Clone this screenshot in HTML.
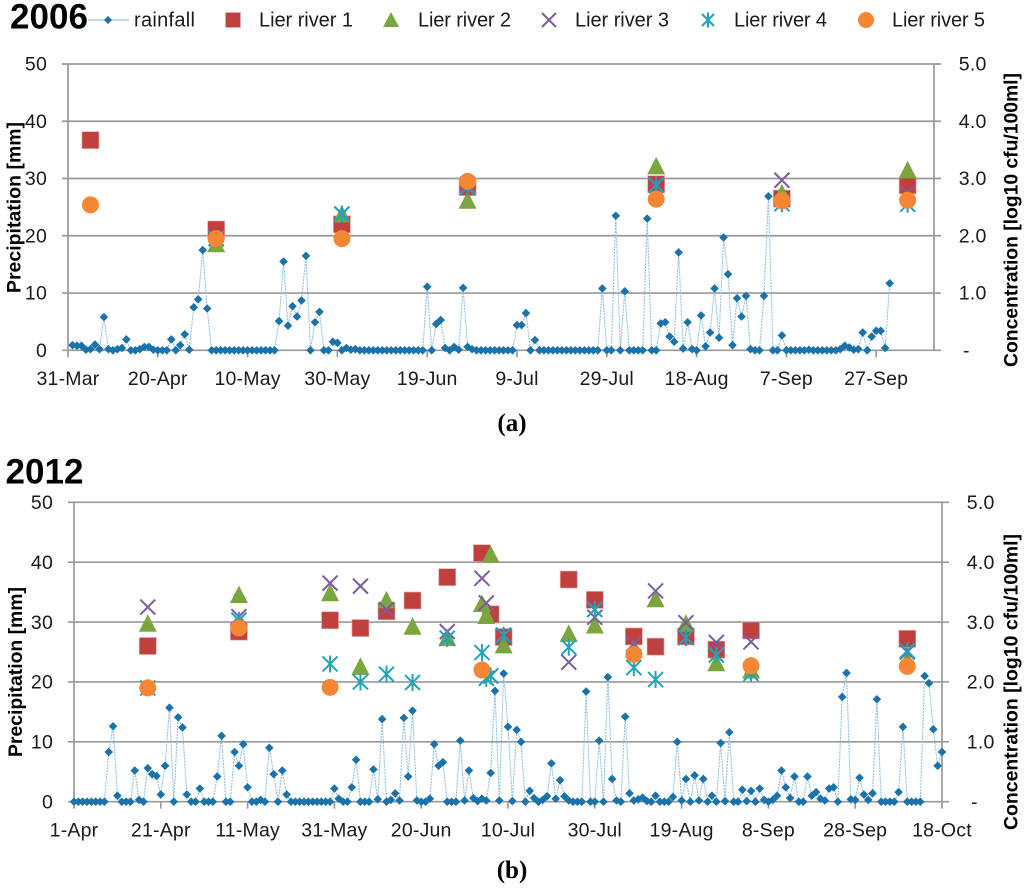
<!DOCTYPE html>
<html lang="en">
<head>
<meta charset="utf-8">
<title>Rainfall and Lier river concentration, 2006 and 2012</title>
<style>
html,body{margin:0;padding:0;background:#fff;}
svg{display:block;font-family:"Liberation Sans",sans-serif;filter:blur(.3px);}
.tick{font-size:19.5px;fill:#1a1a1a;letter-spacing:.2px;}
.title{font-size:35px;font-weight:bold;fill:#000;}
.axis-title{font-size:19.4px;font-weight:bold;fill:#000;}
.legend{font-size:20px;fill:#1a1a1a;}
.caption{font-family:"Liberation Serif",serif;font-size:25px;font-weight:bold;fill:#000;}
</style>
</head>
<body>
<svg id="root" width="1024" height="890" viewBox="0 0 1024 890" xmlns="http://www.w3.org/2000/svg">
  <g id="chart2006"></g>
  <g id="chart2012"></g>

  <text class="title" x="10" y="28.500" textLength="78">2006</text>
  <text class="title" x="5.500" y="483.500" textLength="78">2012</text>

  <g>
    <g>
      <line x1="88" y1="20" x2="129" y2="20" stroke="#a9cfe6" stroke-width="1.5"/>
      <polygon points="108,16 112,20 108,24 104,20" fill="#1a72ab"/>
      <text class="legend" x="134" y="26.500" textLength="61">rainfall</text>
    </g>
    <g>
      <rect x="225.500" y="12.500" width="15" height="15" fill="#c0403d" stroke="#e3a9a8" stroke-width=".7"/>
      <text class="legend" x="259" y="26.500" textLength="94">Lier river 1</text>
    </g>
    <g>
      <polygon points="391,12 399,27 383,27" fill="#7ba63d"/>
      <text class="legend" x="418" y="26.500" textLength="93">Lier river 2</text>
    </g>
    <g>
      <path d="M542 13L556 27M556 13L542 27" stroke="#7c5c9e" stroke-width="2" fill="none"/>
      <text class="legend" x="575" y="26.500" textLength="94">Lier river 3</text>
    </g>
    <g>
      <path d="M702 14L714 26M714 14L702 26M708 12.500V27.500" stroke="#1fa3bb" stroke-width="2" fill="none"/>
      <text class="legend" x="734" y="26.500" textLength="93">Lier river 4</text>
    </g>
    <g>
      <circle cx="866" cy="20" r="8" fill="#f58634"/>
      <text class="legend" x="892" y="26.500" textLength="93">Lier river 5</text>
    </g>
  </g>

  <text class="axis-title" transform="translate(20.500,293) rotate(-90)" textLength="171">Precipitation [mm]</text>
  <text class="axis-title" transform="translate(1017.500,367) rotate(-90)" textLength="294">Concentration [log10 cfu/100ml]</text>
  <text class="axis-title" transform="translate(22,757) rotate(-90)" textLength="170">Precipitation [mm]</text>
  <text class="axis-title" transform="translate(1017.500,830) rotate(-90)" textLength="296">Concentration [log10 cfu/100ml]</text>

  <text class="caption" x="512" y="431" text-anchor="middle">(a)</text>
  <text class="caption" x="512" y="878" text-anchor="middle">(b)</text>
</svg>
<script>
// ---------- data ----------
const xLabels2006 = ["31-Mar","20-Apr","10-May","30-May","19-Jun","9-Jul","29-Jul","18-Aug","7-Sep","27-Sep"];
const xLabels2012 = ["1-Apr","21-Apr","11-May","31-May","20-Jun","10-Jul","30-Jul","19-Aug","8-Sep","28-Sep","18-Oct"];
const leftTicks = [0,10,20,30,40,50];
const rightTicks = [0,1,2,3,4,5];
const rightTickLabels = ["-","1.0","2.0","3.0","4.0","5.0"];

// daily rainfall [mm]; 2006 starts 1-Apr (one day after the axis origin), 2012 starts at the origin
const rainFirstDay2006 = 1;
const rain2006 = [
0.9,0.8,0.8,0.1,0.2,1.0,0.2,5.8,0.2,0,
0.2,0.4,1.9,0,0,0.2,0.6,0.6,0.1,0,
0,0,1.9,0,0.9,2.8,0.1,7.5,8.9,17.5,
7.3,0,0,0,0,0,0,0,0,0,
0,0,0,0,0,0,5.1,15.5,4.3,7.7,
5.9,8.7,16.5,0,4.9,6.7,0,0,1.5,1.3,
0,0.4,0.1,0.2,0,0,0,0,0,0,
0,0,0,0,0,0,0,0,0,11.1,
0,4.6,5.3,0.4,0,0.6,0.1,10.9,0.6,0.2,
0,0,0,0,0,0,0,0,0,4.4,
4.4,6.5,0,1.8,0,0,0,0,0,0,
0,0,0,0,0,0,0,0,10.8,0,
0,23.5,0,10.3,0,0,0,0,23,0,
0,4.7,4.9,2.4,1.5,17.1,0.3,4.9,0.2,0,
6.1,0.7,3.1,10.8,2.2,19.7,13.3,0.9,9.1,5.9,
9.5,0.2,0,0,9.5,26.9,0,0,2.6,0,
0,0,0,0,0.1,0,0,0,0,0,
0,0.2,0.8,0.5,0.1,0.2,3.1,0,2.4,3.4,
3.4,0.4,11.7];

const rainFirstDay2012 = 0;
const rain2012 = [
0,0,0,0,0,0,0,0,8.3,12.6,
1.0,0,0,0,5.2,0.3,0,5.6,4.6,4.3,
1.2,6.0,15.7,0,14.1,12.4,1.2,0,0,2.2,
0,0,0,4.2,11.0,0,0,8.3,6.0,9.6,
2.4,0,0,0.3,0,9.0,4.6,0,5.2,1.2,
0,0,0,0,0,0,0,0,0,0,
2.2,0.5,0,0,2.4,7.0,0,0,0,5.4,
0.4,13.8,0,0.3,1.4,0.2,14.0,4.2,15.2,0.2,
0,0,0.5,9.6,6.0,6.6,0,0,0,10.2,
0.2,5.2,0.6,0.1,0.5,0.2,4.8,18.5,0.2,21.4,
12.5,0.1,12.0,10.0,0,1.8,0.6,0,0.3,0.9,
6.4,0.5,3.6,0.9,0.2,0,0,0,18.4,0,
0,10.2,0,20.8,3.8,0.2,0,14.2,1.4,0.2,
0.4,0.7,0.1,0,1.0,0,0,0,0.8,10.0,
0.2,3.8,0,4.4,0.2,3.8,0,1.0,0,9.8,
0.1,11.6,0,0,2.0,0.1,1.8,0,2.2,0.3,
0,0.3,1.0,5.2,2.4,0.6,4.2,0,0,4.2,
1.0,1.6,0.5,0.2,2.2,2.4,0,17.5,21.5,0.4,
0.3,4.0,1.2,0.3,1.4,17.1,0,0,0,0,
1.6,12.5,0,0,0,0,21.0,19.8,12.1,6.0,
8.3];

// river samples [log10 cfu/100ml]
const sampleDays2006 = [5,33,61,89,131,159,187];
const river1of2006 = [3.67,2.11,2.20,2.85,2.90,2.65,2.88];
const river2of2006 = [null,1.86,2.38,2.62,3.22,2.75,3.15];
const river3of2006 = [null,1.95,2.38,2.90,2.90,2.97,2.75];
const river4of2006 = [null,1.95,2.38,2.85,2.88,2.56,2.55];
const river5of2006 = [2.54,1.95,1.95,2.95,2.64,2.61,2.62];

const sampleDays2012 = [17,38,59,66,72,78,86,94,95,96,99,114,120,129,134,141,148,156,192];
const river1of2012 = [2.60,2.84,3.03,2.90,3.18,3.36,3.75,4.15,null,3.13,2.75,3.71,3.37,2.76,2.59,2.76,2.54,2.86,2.72];
const river2of2012 = [2.98,3.46,3.49,2.26,3.37,2.93,2.74,3.31,3.11,4.13,2.62,2.81,2.95,2.55,3.39,2.98,2.32,2.20,2.37];
const river3of2012 = [3.25,3.09,3.65,3.60,3.21,null,2.84,3.73,3.32,2.10,2.78,2.33,3.08,2.64,3.52,2.99,2.66,2.67,2.50];
const river4of2012 = [1.90,3.03,2.30,2.00,2.13,1.99,2.73,2.49,2.06,2.10,2.78,2.58,3.21,2.24,2.04,2.74,2.45,2.14,2.52];
const river5of2012 = [1.90,2.90,1.91,null,null,null,null,2.20,null,null,null,null,null,2.46,null,null,null,2.27,2.26];

// ---------- drawing ----------
const NS = "http://www.w3.org/2000/svg";
const GRID = "#999999", RAIN = "#1a72ab", RAINLINE = "#8fc0dd";
const RED = "#c0403d", GREEN = "#7ba63d", PURPLE = "#7c5c9e", TEAL = "#1fa3bb", ORANGE = "#f58634";

function make(parent, tag, attrs, text) {
  const el = document.createElementNS(NS, tag);
  for (const k in attrs) el.setAttribute(k, attrs[k]);
  if (text !== undefined) el.textContent = text;
  parent.appendChild(el);
  return el;
}

function drawMarker(g, kind, cx, cy) {
  if (kind === 1) {
    const el = make(g, "rect", {x: cx - 8.5, y: cy - 8.5, width: 17, height: 17, fill: RED, stroke: "#e3a9a8", "stroke-width": .7});
    
    
  } else if (kind === 2) {
    const el = make(g, "polygon", {points: cx + "," + (cy - 9) + " " + (cx + 9) + "," + (cy + 8.5) + " " + (cx - 9) + "," + (cy + 8.5), fill: GREEN});
    
    
  } else if (kind === 3) {
    const r = 7.5;
    const el = make(g, "path", {d: "M" + (cx - r) + " " + (cy - r) + "L" + (cx + r) + " " + (cy + r) + "M" + (cx + r) + " " + (cy - r) + "L" + (cx - r) + " " + (cy + r), stroke: PURPLE, "stroke-width": 2, fill: "none"});
    
    
  } else if (kind === 4) {
    const r = 7.5;
    const el = make(g, "path", {d: "M" + (cx - r) + " " + (cy - r) + "L" + (cx + r) + " " + (cy + r) + "M" + (cx + r) + " " + (cy - r) + "L" + (cx - r) + " " + (cy + r) + "M" + cx + " " + (cy - 8.5) + "V" + (cy + 8.5), stroke: TEAL, "stroke-width": 2, fill: "none"});
    
    
  } else {
    const el = make(g, "circle", {cx: cx, cy: cy, r: 8.5, fill: ORANGE});
    
    
  }
}

function drawChart(host, box, xLabels, rain, rainFirstDay, sampleDays, rivers) {
  const x = d => box.left + box.pxPerDay * d;
  const yMm = v => box.bottom - (box.bottom - box.top) * v / 50;
  const yLog = v => box.bottom - (box.bottom - box.top) * v / 5;

  // gridlines and left labels
  leftTicks.forEach(function (t) {
    const line = make(host, "line", {x1: box.left - 6, x2: box.right + 7, y1: yMm(t), y2: yMm(t), stroke: GRID, "stroke-width": 1.7});
    
    
    const label = make(host, "text", {class: "tick", x: box.left - 21, y: yMm(t) + 6.7, "text-anchor": "end"}, String(t));
    
    
  });
  // right labels
  rightTicks.forEach(function (t, i) {
    const txt = rightTickLabels[i];
    const label = make(host, "text", {class: "tick", x: txt === "-" ? box.right + 29 : box.right + 52.5, y: yLog(t) + 6.7, "text-anchor": txt === "-" ? "start" : "end"}, txt);
    
    
  });
  // vertical axes
  [box.left, box.right].forEach(function (ax) {
    const line = make(host, "line", {x1: ax, x2: ax, y1: box.top, y2: box.bottom, stroke: GRID, "stroke-width": 1.7});
    
    
  });
  // x ticks and labels
  xLabels.forEach(function (lab, i) {
    const tx = x(i * 20);
    const tick = make(host, "line", {x1: tx, x2: tx, y1: box.bottom, y2: box.bottom + 7, stroke: GRID, "stroke-width": 1.7});
    
    
    const label = make(host, "text", {class: "tick", x: tx, y: box.labelY, "text-anchor": "middle"}, lab);
    
    
  });
  // rainfall line
  const pts = rain.map((v, i) => x(rainFirstDay + i).toFixed(2) + "," + yMm(v).toFixed(2)).join(" ");
  const rainLine = make(host, "polyline", {points: pts, fill: "none", stroke: RAINLINE, "stroke-width": 1.1, "stroke-dasharray": "2 1"});
  
  
  // rainfall markers
  rain.forEach(function (v, i) {
    const cx = x(rainFirstDay + i), cy = yMm(v), r = 4.3;
    const m = make(host, "polygon", {points: cx + "," + (cy - r) + " " + (cx + r) + "," + cy + " " + cx + "," + (cy + r) + " " + (cx - r) + "," + cy, fill: RAIN});
    
    
  });
  // river samples, in legend order
  rivers.forEach(function (series, s) {
    series.forEach(function (v, i) {
      if (v !== null) drawMarker(host, s + 1, x(sampleDays[i]), yLog(v));
    });
  });
}

drawChart(
  document.getElementById("chart2006"),
  {left: 68, right: 934, top: 64, bottom: 350.3, pxPerDay: 4.49, labelY: 385},
  xLabels2006, rain2006, rainFirstDay2006, sampleDays2006,
  [river1of2006, river2of2006, river3of2006, river4of2006, river5of2006]
);
drawChart(
  document.getElementById("chart2012"),
  {left: 74, right: 942, top: 502.3, bottom: 801.7, pxPerDay: 4.34, labelY: 836.5},
  xLabels2012, rain2012, rainFirstDay2012, sampleDays2012,
  [river1of2012, river2of2012, river3of2012, river4of2012, river5of2012]
);
</script>
</body>
</html>
